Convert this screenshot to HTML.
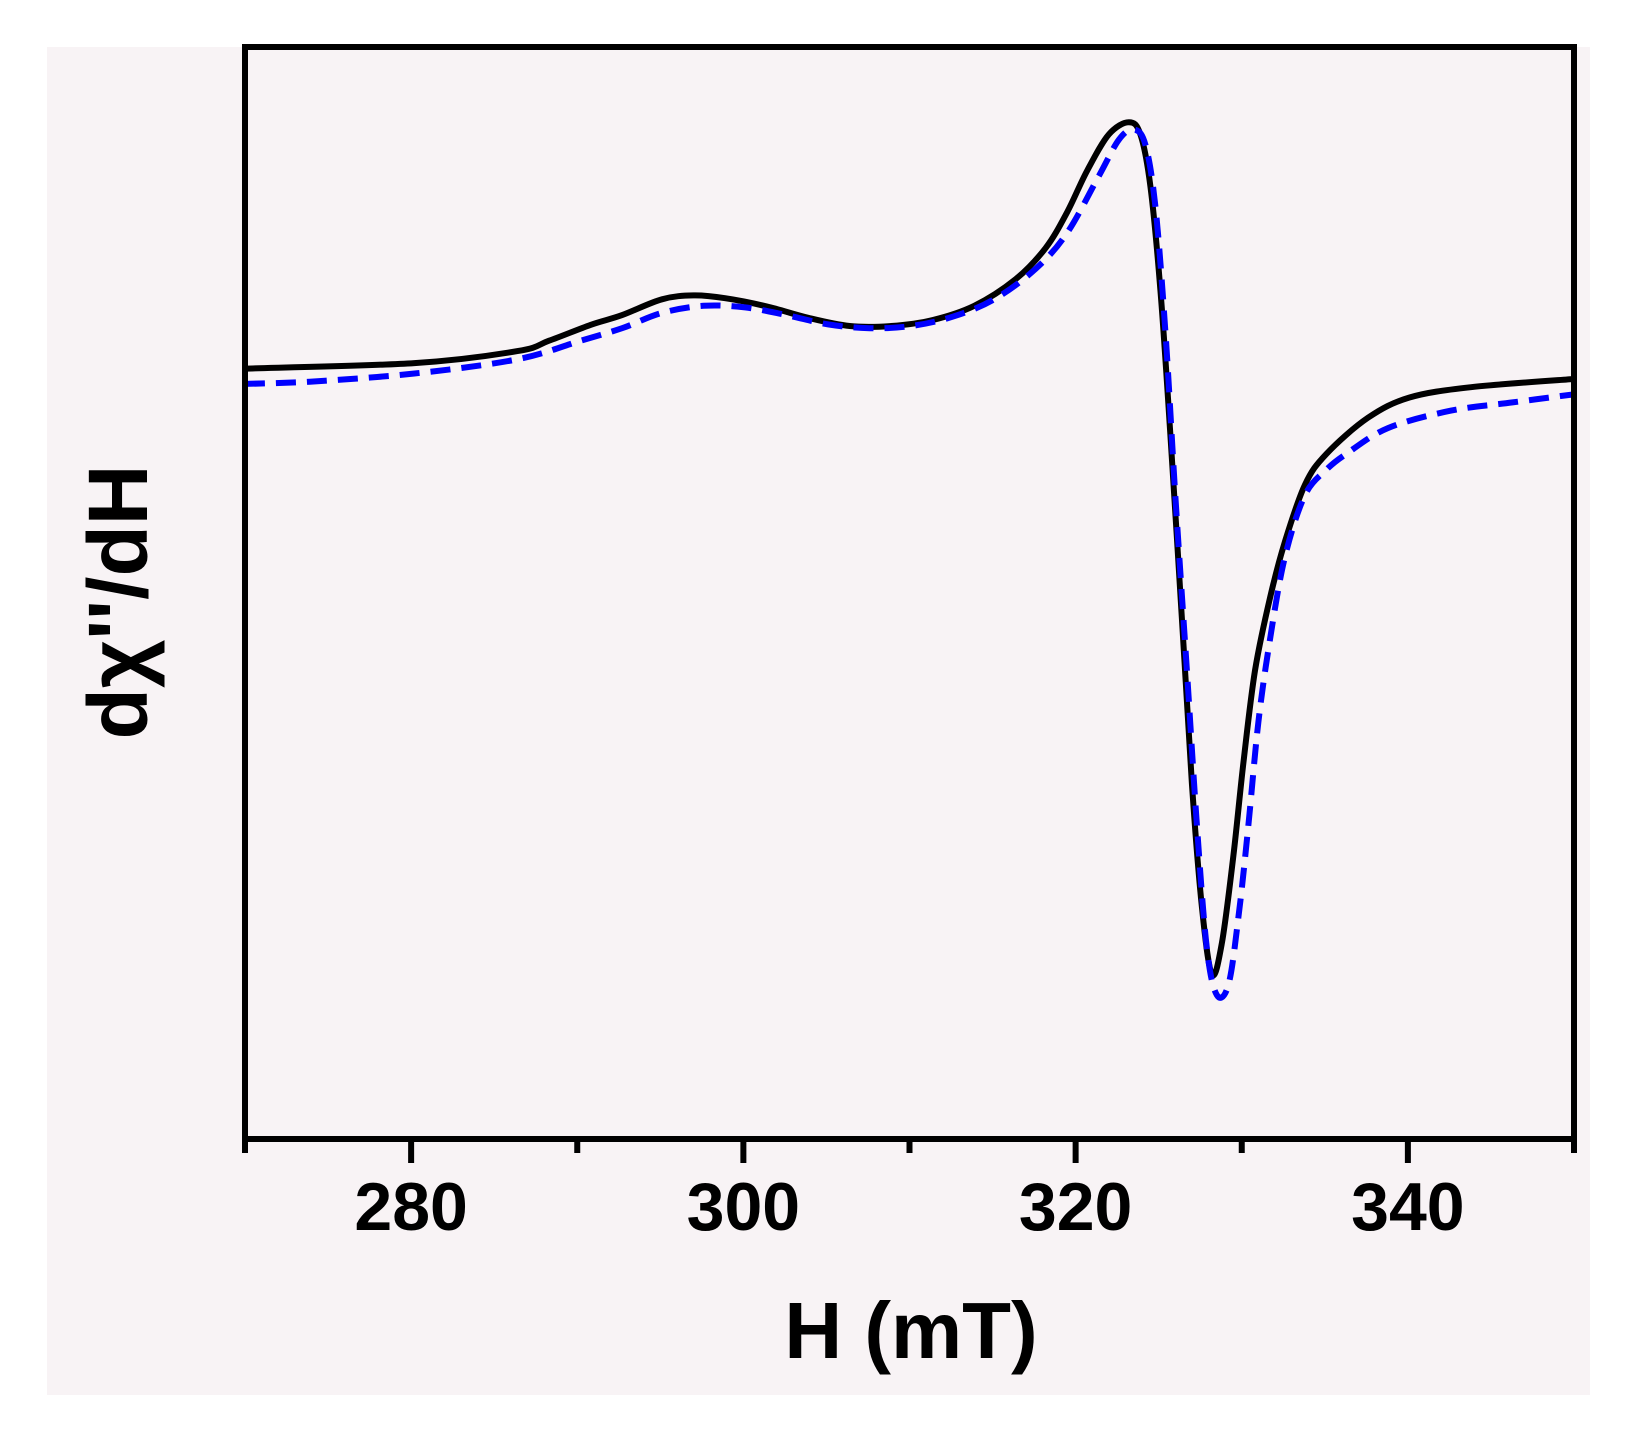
<!DOCTYPE html>
<html><head><meta charset="utf-8">
<style>
html,body{margin:0;padding:0;background:#fff;}
svg{display:block;}
text{font-family:"Liberation Sans",Arial,sans-serif;fill:#000;}
</style></head>
<body>
<svg id="chart" width="1627" height="1431" viewBox="0 0 1627 1431">
  <rect x="47" y="47" width="1543" height="1348" fill="#f8f3f5"/>
  <g id="plot"></g>
  <text x="911" y="1358" font-size="80" font-weight="bold" text-anchor="middle">H (mT)</text>
  <text transform="translate(118,602) rotate(-90)" font-size="84" font-weight="bold" text-anchor="middle" dominant-baseline="central">dχ''/dH</text>
</svg>
<script>
const xTicks = [280, 300, 320, 340];
const xMinorTicks = [270, 290, 310, 330, 350];
const xTickLabels = ["280", "300", "320", "340"];

const blackX = [270,280.2,286.4,288.3,290.8,292.7,295.1,297.0,298.9,301.4,303.9,306.4,308.9,311.4,313.9,316.4,318.2,319.5,320.7,322.0,323.2,323.9,324.5,325.1,325.7,326.4,327.0,327.6,328.2,328.8,329.5,330.1,330.8,331.7,332.6,333.8,335.1,337.6,340.1,343.8,350];
const blackY = [0.411,0.421,0.443,0.462,0.491,0.509,0.538,0.545,0.540,0.525,0.504,0.489,0.489,0.500,0.526,0.575,0.632,0.698,0.774,0.840,0.862,0.840,0.745,0.557,0.292,-0.047,-0.349,-0.575,-0.698,-0.642,-0.481,-0.311,-0.142,-0.009,0.094,0.198,0.255,0.321,0.358,0.377,0.392];

const blueX = [270,273.9,280.2,286.4,290.2,292.7,295.1,297.6,300.1,302.6,305.1,307.6,310.1,312.6,315.1,317.6,319.5,321.4,322.6,323.5,324.2,324.8,325.4,326.0,326.7,327.3,327.9,328.5,329.2,329.8,330.4,331.0,331.7,332.6,333.8,335.1,336.3,338.8,342.6,346.3,350];
const blueY = [0.383,0.387,0.402,0.428,0.462,0.485,0.513,0.526,0.523,0.509,0.492,0.485,0.489,0.506,0.538,0.594,0.660,0.764,0.830,0.849,0.821,0.708,0.481,0.179,-0.142,-0.425,-0.651,-0.736,-0.717,-0.594,-0.425,-0.236,-0.085,0.066,0.179,0.226,0.255,0.302,0.334,0.349,0.364];

const X0 = 245, X1 = 1574, Y0 = 47, Y1 = 1139;
const xMin = 270, xMax = 350, yMin = -1, yMax = 1;
function sx(v){ return X0 + (v - xMin) / (xMax - xMin) * (X1 - X0); }
function sy(v){ return Y1 - (v - yMin) / (yMax - yMin) * (Y1 - Y0); }

const NS = "http://www.w3.org/2000/svg";
const plot = document.getElementById("plot");

function smoothPath(xs, ys){
  const p = xs.map((x,i)=>[sx(x), sy(ys[i])]);
  let d = "M" + p[0][0].toFixed(1) + "," + p[0][1].toFixed(1);
  for (let i=0;i<p.length-1;i++){
    const p0 = p[Math.max(0,i-1)], p1 = p[i], p2 = p[i+1], p3 = p[Math.min(p.length-1,i+2)];
    const c1x = p1[0] + (p2[0]-p0[0])/6, c1y = p1[1] + (p2[1]-p0[1])/6;
    const c2x = p2[0] - (p3[0]-p1[0])/6, c2y = p2[1] - (p3[1]-p1[1])/6;
    d += " C" + c1x.toFixed(1)+","+c1y.toFixed(1)+" "+c2x.toFixed(1)+","+c2y.toFixed(1)+" "+p2[0].toFixed(1)+","+p2[1].toFixed(1);
  }
  return d;
}

const clip = document.createElementNS(NS, "clipPath");
clip.setAttribute("id", "clipPlot");
const cr = document.createElementNS(NS, "rect");
cr.setAttribute("x", X0); cr.setAttribute("y", Y0);
cr.setAttribute("width", X1 - X0); cr.setAttribute("height", Y1 - Y0);
clip.appendChild(cr);
plot.appendChild(clip);

const blackPath = document.createElementNS(NS, "path");


blackPath.setAttribute("d", smoothPath(blackX, blackY));
blackPath.setAttribute("fill", "none");
blackPath.setAttribute("stroke", "#000");
blackPath.setAttribute("stroke-width", "6");
blackPath.setAttribute("stroke-linejoin", "round");
blackPath.setAttribute("clip-path", "url(#clipPlot)");
plot.appendChild(blackPath);

const bluePath = document.createElementNS(NS, "path");


bluePath.setAttribute("d", smoothPath(blueX, blueY));
bluePath.setAttribute("fill", "none");
bluePath.setAttribute("stroke", "#0000ff");
bluePath.setAttribute("stroke-width", "6");
bluePath.setAttribute("stroke-dasharray", "20 11");
bluePath.setAttribute("clip-path", "url(#clipPlot)");
plot.appendChild(bluePath);

const frame = document.createElementNS(NS, "rect");


frame.setAttribute("x", X0); frame.setAttribute("y", Y0);
frame.setAttribute("width", X1 - X0); frame.setAttribute("height", Y1 - Y0);
frame.setAttribute("fill", "none");
frame.setAttribute("stroke", "#000");
frame.setAttribute("stroke-width", "6");
plot.appendChild(frame);

xTicks.forEach((t,i)=>{
  const ln = document.createElementNS(NS, "line");
  
  
  ln.setAttribute("x1", sx(t)); ln.setAttribute("x2", sx(t));
  ln.setAttribute("y1", Y1); ln.setAttribute("y2", Y1 + 24);
  ln.setAttribute("stroke", "#000"); ln.setAttribute("stroke-width", "6");
  plot.appendChild(ln);
  const tx = document.createElementNS(NS, "text");
  
  
  tx.setAttribute("x", sx(t)); tx.setAttribute("y", Y1 + 91);
  tx.setAttribute("font-size", "68");
  tx.setAttribute("font-weight", "bold");
  tx.setAttribute("text-anchor", "middle");
  tx.textContent = xTickLabels[i];
  plot.appendChild(tx);
});
xMinorTicks.forEach(t=>{
  const ln = document.createElementNS(NS, "line");
  
  
  ln.setAttribute("x1", sx(t)); ln.setAttribute("x2", sx(t));
  ln.setAttribute("y1", Y1); ln.setAttribute("y2", Y1 + 14);
  ln.setAttribute("stroke", "#000"); ln.setAttribute("stroke-width", "6");
  plot.appendChild(ln);
});
</script>
</body></html>
